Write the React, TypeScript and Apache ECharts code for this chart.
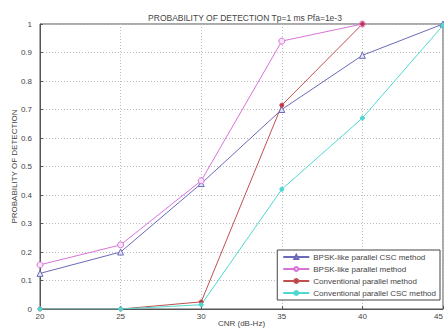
import React, { useEffect, useRef } from "react";
import * as echarts from "echarts";

const cnr = [20, 25, 30, 35, 40, 45];
const bpskCsc = [0.125, 0.2, 0.44, 0.70, 0.89, 1.0];
const bpskPar = [0.155, 0.225, 0.45, 0.94, 1.0, null];
const convPar = [0.0, 0.0, 0.025, 0.715, 1.0, null];
const convCsc = [0.0, 0.0, 0.015, 0.42, 0.67, 0.995];
const yTicks = [0, 0.1, 0.2, 0.3, 0.4, 0.5, 0.6, 0.7, 0.8, 0.9, 1];

const font = "Liberation Sans, Arial, sans-serif";

export default function App() {
  const ref = useRef<HTMLDivElement>(null);
  useEffect(() => {
    const chart = echarts.init(ref.current!, null, { renderer: "svg" });
    const mk = (name: string, data: any[], color: string, symbol: string, size: number, fill: string) => ({
      name,
      type: "line",
      data: cnr.map((x, i) => [x, data[i]]),
      connectNulls: false,
      symbol,
      symbolSize: size,
      lineStyle: { color, width: 1 },
      itemStyle: { color: fill, borderColor: color, borderWidth: 1 },
      emphasis: { disabled: true },
    });
    chart.setOption({
      animation: false,
      backgroundColor: "#ffffff",
      title: {
        text: "PROBABILITY OF DETECTION Tp=1 ms Pfa=1e-3",
        left: 240,
        textAlign: "center",
        top: 8,
        textStyle: { fontSize: 8.5, fontWeight: "normal", color: "#444", fontFamily: font },
      },
      legend: {
        orient: "vertical",
        right: 4,
        top: 250,
        itemGap: 4,
        itemWidth: 26,
        itemHeight: 5,
        padding: [3, 4, 3, 5],
        borderColor: "#444",
        borderWidth: 1,
        backgroundColor: "#fff",
        textStyle: { fontSize: 8, color: "#444", fontFamily: font, padding: [0, 0, 0, -1] },
        data: [
          "BPSK-like parallel CSC method",
          "BPSK-like parallel method",
          "Conventional parallel method",
          "Conventional parallel CSC method",
        ],
      },
      grid: {
        left: 40,
        right: 1,
        top: 24,
        bottom: 20,
        containLabel: false,
        outerBoundsMode: "none",
        show: true,
        borderColor: "#555",
        borderWidth: 1,
        backgroundColor: "transparent",
      },
      xAxis: {
        type: "value",
        min: 20,
        max: 45,
        interval: 5,
        name: "CNR (dB-Hz)",
        nameLocation: "middle",
        nameGap: 10,
        nameMoveOverlap: false,
        nameTextStyle: { fontSize: 8, color: "#444", fontFamily: font },
        axisLine: { show: true, onZero: false, lineStyle: { color: "#555", width: 1 } },
        axisTick: { show: true, inside: true, length: 3, lineStyle: { color: "#555" } },
        axisLabel: { fontSize: 8, color: "#444", margin: 3, fontFamily: font, alignMaxLabel: "right" },
        splitLine: { show: true, lineStyle: { color: "#bbb", type: [1, 2], width: 1 } },
      },
      yAxis: {
        type: "value",
        min: 0,
        max: 1,
        interval: 0.1,
        name: "PROBABILITY OF DETECTION",
        nameLocation: "middle",
        nameGap: 22,
        nameMoveOverlap: false,
        nameTextStyle: { fontSize: 8, color: "#444", fontFamily: font },
        axisLine: { show: true, lineStyle: { color: "#555", width: 1 } },
        axisTick: { show: true, inside: true, length: 3, lineStyle: { color: "#555" } },
        axisLabel: {
          fontSize: 8,
          color: "#444",
          margin: 8,
          fontFamily: font,
          formatter: (v: number) => {
            const t = yTicks.find((y) => Math.abs(y - v) < 1e-6);
            return t === undefined ? "" : String(t);
          },
        },
        splitLine: { show: true, lineStyle: { color: "#bbb", type: [1, 2], width: 1 } },
      },
      series: [
        mk("BPSK-like parallel CSC method", bpskCsc, "#6a6ab8", "triangle", 6, "#e6e6f5"),
        mk("BPSK-like parallel method", bpskPar, "#d872d8", "circle", 6, "#f7e6f7"),
        mk("Conventional parallel method", convPar, "#c0504d", "circle", 4, "#c0304d"),
        mk("Conventional parallel CSC method", convCsc, "#4fd8d2", "circle", 4, "#4fd8d2"),
      ],
    });
    return () => chart.dispose();
  }, []);
  return (
    <div
      ref={ref}
      style={{ position: "fixed", left: 0, top: 0, width: 444, height: 329 }}
    />
  );
}
